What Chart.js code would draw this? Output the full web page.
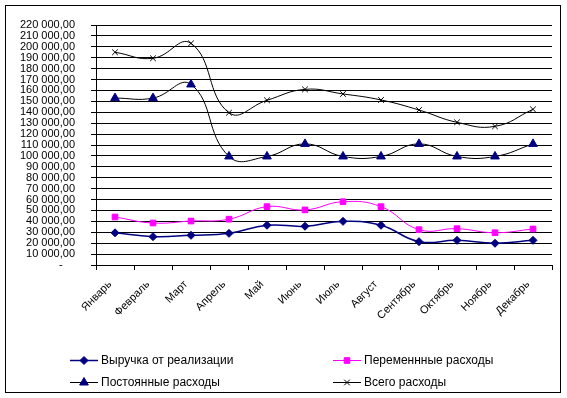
<!DOCTYPE html>
<html>
<head>
<meta charset="utf-8">
<script src="https://cdn.jsdelivr.net/npm/chart.js@4.4.0/dist/chart.umd.min.js"></script>
<style>
  body { margin: 0; background: #fff; }
</style>
</head>
<body>
<canvas id="chart" width="567" height="398"></canvas>
<script>
const months = ["Январь", "Февраль", "Март", "Апрель", "Май", "Июнь", "Июль", "Август", "Сентябрь", "Октябрь", "Ноябрь", "Декабрь"];
const revenue = [29500, 26000, 27200, 29000, 36400, 35500, 40000, 36400, 21400, 22600, 19900, 22600];
const variableCosts = [44000, 38500, 40300, 42000, 53500, 50500, 58000, 53500, 32400, 33300, 29600, 33000];
const fixedCosts = [153000, 153000, 165500, 99500, 99500, 111000, 99500, 99500, 111000, 99500, 99500, 111000];
const totalCosts = [195000, 189500, 203200, 139600, 151000, 161000, 156800, 151300, 142100, 130800, 127100, 142700];
const seriesNames = ["Выручка от реализации", "Переменнные расходы", "Постоянные расходы", "Всего расходы"];

const FONT = "'Liberation Sans', Arial, sans-serif";

function fmt(v) {
    if (v === 0) return "-    ";
    return String(v).replace(/\B(?=(\d{3})+(?!\d))/g, " ") + ",00";
}

// рамка вокруг всей диаграммы
const framePlugin = {
    id: "frame",
    beforeDraw(chart) {
        const ctx = chart.ctx;
        ctx.save();
        ctx.fillStyle = "#fff";
        ctx.fillRect(0, 0, chart.width, chart.height);
        ctx.strokeStyle = "#000";
        ctx.lineWidth = 1;
        ctx.strokeRect(5.5, 5.5, 555, 387);
        ctx.restore();
    }
};

// легенда в две колонки, как в Excel
const legendPlugin = {
    id: "excelLegend",
    afterDraw(chart) {
        const ctx = chart.ctx;
        const cols = [70, 333];
        const rows = [360, 382];
        ctx.save();
        chart.data.datasets.forEach((ds, i) => {
            const x = cols[i % 2];
            const y = rows[Math.floor(i / 2)];
            ctx.strokeStyle = ds.borderColor;
            ctx.lineWidth = ds.borderWidth;
            ctx.beginPath();
            ctx.moveTo(x, y + 0.5);
            ctx.lineTo(x + 28, y + 0.5);
            ctx.stroke();
            ctx.fillStyle = ds.pointBackgroundColor;
            ctx.strokeStyle = ds.pointBorderColor;
            ctx.lineWidth = ds.pointBorderWidth;
            Chart.helpers.drawPoint(ctx, {
                pointStyle: ds.pointStyle,
                radius: ds.pointRadius,
                borderWidth: ds.pointBorderWidth,
                rotation: 0
            }, x + 14, y + 0.5);
            ctx.fillStyle = "#000";
            ctx.font = "12px " + FONT;
            ctx.textBaseline = "middle";
            ctx.textAlign = "left";
            ctx.fillText(ds.label, x + 31, y + 1);
        });
        ctx.restore();
    }
};

new Chart(document.getElementById("chart"), {
    type: "line",
    data: {
        labels: months,
        datasets: [
            {
                label: seriesNames[0],
                data: revenue,
                borderColor: "#000080",
                borderWidth: 1.5,
                pointStyle: "rectRot",
                pointRadius: 4,
                pointBackgroundColor: "#000080",
                pointBorderColor: "#000080",
                pointBorderWidth: 1,
                tension: 0.45
            },
            {
                label: seriesNames[1],
                data: variableCosts,
                borderColor: "#ff00ff",
                borderWidth: 1,
                pointStyle: "rect",
                pointRadius: 4,
                pointBackgroundColor: "#ff00ff",
                pointBorderColor: "#ff00ff",
                pointBorderWidth: 1,
                tension: 0.45
            },
            {
                label: seriesNames[2],
                data: fixedCosts,
                borderColor: "#000000",
                borderWidth: 1,
                pointStyle: "triangle",
                pointRadius: 5,
                pointBackgroundColor: "#000080",
                pointBorderColor: "#000080",
                pointBorderWidth: 1,
                tension: 0.45
            },
            {
                label: seriesNames[3],
                data: totalCosts,
                borderColor: "#000000",
                borderWidth: 1,
                pointStyle: "crossRot",
                pointRadius: 4,
                pointBackgroundColor: "#000000",
                pointBorderColor: "#000000",
                pointBorderWidth: 1,
                tension: 0.45
            }
        ]
    },
    options: {
        responsive: false,
        animation: false,
        events: [],
        layout: { padding: { left: 6, right: 15, top: 25, bottom: 58 } },
        plugins: {
            legend: { display: false },
            tooltip: { enabled: false }
        },
        scales: {
            x: {
                offset: true,
                afterFit: (s) => { s.height = 75; },
                border: { color: "#000", width: 1 },
                grid: {
                    offset: true,
                    drawOnChartArea: false,
                    color: "#000",
                    tickLength: 5
                },
                ticks: {
                    color: "#000",
                    font: { family: FONT, size: 11 },
                    minRotation: 45,
                    maxRotation: 45,
                    padding: 8,
                    labelOffset: -5
                }
            },
            y: {
                min: 0,
                max: 220000,
                afterFit: (s) => { s.width = 90; },
                border: { color: "#000", width: 1 },
                grid: {
                    color: "#000",
                    tickLength: 5
                },
                ticks: {
                    stepSize: 10000,
                    autoSkip: false,
                    color: "#000",
                    font: { family: FONT, size: 11 },
                    padding: 16,
                    callback: (v) => fmt(v)
                }
            }
        }
    },
    plugins: [framePlugin, legendPlugin]
});
</script>
</body>
</html>
